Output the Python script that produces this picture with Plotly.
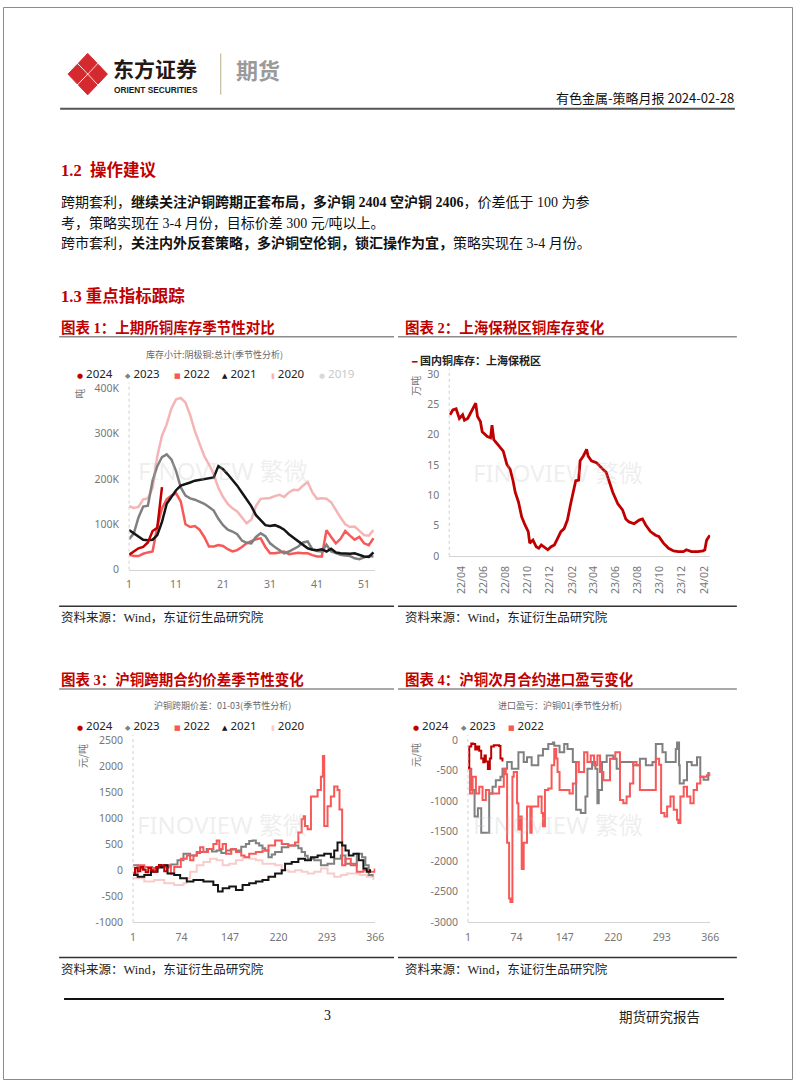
import plotly.graph_objects as go

W, H = 802, 1087


def px(x):
    return x / W


def py(y):
    return 1 - y / H


# ---------------- Chart 1: SHFE cathode copper inventory (thousand t), by week ----------------
c1_weeks = list(range(1, 54))
c1_2024 = [33, 40, 47, 50, 60, 85, 92, 182]
c1_2023 = [67, 80, 115, 139, 141, 196, 228, 248, 254, 243, 217, 181, 163, 157, 154, 150, 145, 138,
           130, 112, 98, 88, 84, 78, 64, 59, 58, 72, 80, 74, 58, 50, 42, 36, 40, 45, 51, 60, 62, 45,
           41, 40, 55, 40, 36, 33, 31, 30, 25, 23, 27, 30, 29]
c1_2022 = [33, 30, 30, 35, 38, 40, 95, 135, 155, 163, 168, 150, 100, 94, 96, 88, 72, 51, 51, 54,
           52, 45, 40, 43, 50, 58, 63, 67, 69, 50, 36, 36, 38, 40, 34, 36, 37, 36, 36, 32,
           29, 29, 87, 72, 58, 68, 85, 75, 66, 72, 58, 54, 69]
c1_2021 = [87, 80, 72, 66, 65, 66, 76, 105, 145, 160, 175, 185, 188, 192, 196, 198, 199, 202, 203, 228,
           221, 210, 198, 185, 170, 155, 140, 120, 108, 98, 96, 98, 94, 88, 78, 70, 62, 54, 47, 44,
           43, 45, 40, 46, 38, 36, 35, 35, 36, 33, 29, 28, 38]
c1_2020 = [140, 136, 138, 155, 157, 180, 250, 295, 320, 355, 375, 378, 368, 340, 305, 275, 250, 232,
           210, 180, 160, 145, 135, 128, 115, 102, 110, 140, 156, 157, 158, 162, 165, 160, 170, 176,
           175, 185, 193, 170, 156, 157, 156, 148, 130, 115, 100, 94, 95, 85, 76, 75, 87]
c1_xticks = [1, 11, 21, 31, 41, 51]
c1_yticks = [0, 100, 200, 300, 400]
c1_ytext = ["0", "100K", "200K", "300K", "400K"]

# ---------------- Chart 2: Shanghai bonded-zone copper stocks (10k t) ----------------
c2_dates = ["2022-03-01", "2022-03-09", "2022-03-18", "2022-03-22", "2022-03-27", "2022-04-05",
            "2022-04-10", "2022-04-19", "2022-04-28", "2022-05-04", "2022-05-11", "2022-05-16",
            "2022-05-24", "2022-05-29", "2022-06-12", "2022-06-21", "2022-06-25", "2022-06-30",
            "2022-07-12", "2022-07-26", "2022-08-05", "2022-08-14", "2022-08-22", "2022-08-28",
            "2022-09-06", "2022-09-15", "2022-09-24", "2022-10-03", "2022-10-07", "2022-10-16",
            "2022-10-25", "2022-11-01", "2022-11-08", "2022-11-22", "2022-11-26", "2022-12-05",
            "2022-12-14", "2022-12-23", "2023-01-01", "2023-01-10", "2023-01-19", "2023-01-28",
            "2023-02-11", "2023-02-19", "2023-02-23", "2023-03-04", "2023-03-13", "2023-03-17",
            "2023-03-26", "2023-04-09", "2023-04-18", "2023-04-27", "2023-05-06", "2023-05-15",
            "2023-05-24", "2023-06-07", "2023-06-20", "2023-06-29", "2023-07-08", "2023-07-22",
            "2023-08-05", "2023-08-14", "2023-08-23", "2023-09-05", "2023-09-19", "2023-09-28",
            "2023-10-11", "2023-10-25", "2023-11-08", "2023-11-21", "2023-12-05", "2023-12-13",
            "2023-12-27", "2024-01-14", "2024-01-28", "2024-02-02", "2024-02-07", "2024-02-16"]
c2_stock = [23.3, 24.1, 24.3, 23.5, 22.7, 23.3, 22.4, 22.7, 23.8, 24.3, 25.2, 23.0, 22.2, 20.5,
            19.7, 19.5, 21.6, 19.2, 18.4, 17.3, 15.1, 14.3, 12.4, 10.5, 8.9, 6.4, 5.1, 4.0, 2.1,
            2.6, 1.5, 1.25, 1.8, 1.25, 1.0, 1.5, 1.8, 2.9, 4.0, 4.5, 5.9, 8.6, 12.4, 12.5, 15.7,
            16.5, 17.6, 16.5, 15.7, 15.4, 14.8, 14.3, 13.8, 12.1, 10.5, 8.6, 7.6, 6.1, 5.6, 5.3,
            5.9, 6.1, 5.1, 4.0, 3.4, 3.2, 2.1, 1.25, 0.8, 0.7, 0.7, 1.0, 0.7, 0.7, 0.8, 1.0, 2.6, 3.4]
c2_yticks = [0, 5, 10, 15, 20, 25, 30]

# ---------------- Chart 3: SHFE copper 01-03 spread (yuan/t), by day of year ----------------
c3_d2024 = [1, 4, 8, 12, 16, 20, 24, 28, 32, 36, 40, 44, 48, 52, 54]
c3_v2024 = [-60, 40, -20, 60, 10, -40, 40, 0, -30, 60, 100, 90, -20, 40, 30]
c3_d2023 = [1, 8, 18, 30, 45, 58, 68, 77, 87, 97, 102, 112, 120, 127, 134, 141, 148, 156, 164, 171,
            176, 181, 186, 191, 196, 200, 205, 210, 215, 225, 235, 245, 250, 255, 260, 264, 274, 284,
            294, 304, 314, 321, 329, 338, 346, 351, 356, 362]
c3_v2023 = [95, 30, 60, 40, 70, 110, 190, 315, 285, 330, 350, 410, 360, 380, 330, 380, 400, 380, 450,
            505, 560, 570, 520, 475, 420, 380, 250, 300, 350, 440, 475, 475, 420, 350, 280, 220, 190,
            95, 125, 220, 285, 125, 95, 315, 250, 95, -95, -120]
c3_d2022 = [1, 8, 18, 28, 38, 48, 58, 63, 73, 82, 87, 92, 97, 102, 107, 114, 122, 127, 131, 136, 141,
            149, 156, 164, 169, 176, 186, 196, 205, 215, 225, 235, 245, 250, 255, 258, 260, 264, 269,
            274, 279, 284, 287, 289, 294, 299, 304, 309, 312, 316, 321, 329, 338, 348, 358, 365]
c3_v2022 = [-63, 95, 63, 30, 63, 95, -63, 63, 220, 285, 190, 285, 350, 440, 350, 410, 505, 570, 410,
            505, 315, 410, 350, 285, 250, 315, 350, 380, 475, 570, 505, 475, 535, 725, 980, 1040, 850,
            790, 1420, 1420, 1545, 1800, 2200, 850, 1230, 1420, 1610, 1545, 1170, 95, 220, 125, -30, 0,
            -30, 30]
c3_d2021 = [1, 8, 18, 28, 38, 48, 53, 63, 72, 82, 92, 107, 122, 129, 136, 146, 156, 166, 176, 186,
            196, 205, 215, 225, 230, 240, 250, 260, 269, 279, 289, 299, 304, 309, 316, 321, 326, 333,
            341, 348, 353, 358]
c3_v2021 = [-95, -126, -95, -30, 63, 95, -63, -95, -158, -220, -190, -220, -285, -410, -347, -315,
            -380, -285, -250, -220, -190, -126, -63, 0, 125, 158, 220, 190, 250, 285, 315, 250, 380,
            535, 475, 380, 285, 315, 190, 30, -30, 20]
c3_d2020 = [1, 18, 33, 48, 63, 77, 82, 87, 97, 107, 117, 127, 136, 146, 156, 166, 176, 186, 196, 205,
            215, 225, 235, 245, 255, 264, 274, 284, 294, 304, 314, 323, 333, 343, 353, 363]
c3_v2020 = [-158, -220, -190, -250, -285, -250, -158, -30, 95, 158, 220, 190, 95, 125, 190, 250, 220,
            190, 125, 125, 95, 0, -30, 0, -30, -63, -30, 30, -63, -126, -95, -63, -63, -95, -126, -190]
c3_xticks = [1, 74, 147, 220, 293, 366]
c3_yticks = [-1000, -500, 0, 500, 1000, 1500, 2000, 2500]

# ---------------- Chart 4: SHFE copper import profit (yuan/t), by day of year ----------------
c4_d2024 = [1, 3, 6, 9, 12, 15, 18, 21, 24, 26, 28, 31, 34, 36, 40, 44, 48, 50, 53]
c4_v2024 = [-450, -100, -50, -60, -150, -100, -170, -300, -360, -250, -350, -470, -300, -100, -80,
            -80, -90, -300, -350]
c4_d2023 = [1, 6, 11, 16, 21, 31, 33, 38, 43, 50, 53, 60, 67, 77, 85, 90, 97, 107, 114, 122, 129, 131,
            139, 146, 151, 159, 164, 171, 176, 178, 181, 188, 193, 196, 198, 203, 210, 220, 225, 230,
            240, 250, 260, 269, 279, 284, 289, 294, 299, 306, 314, 316, 319, 320, 326, 331, 338, 346,
            351, 356, 363]
c4_v2023 = [-467, -820, -1255, -1120, -1525, -1525, -875, -765, -657, -600, -467, -358, -467, -195,
            -358, -277, -412, -250, -141, -60, -33, -87, -195, -60, -141, -358, -1146, -1200, -1200,
            -928, -467, -358, -467, -1037, -820, -358, -250, -304, -467, -358, -358, -412, -304, -412,
            -358, -60, -60, -195, -358, -358, -141, -33, -412, -711, -657, -358, -412, -277, -600,
            -650, -520]
c4_d2022 = [1, 4, 8, 13, 18, 23, 28, 33, 43, 48, 53, 55, 58, 60, 63, 65, 68, 70, 75, 77, 80, 82, 85,
            90, 95, 97, 102, 107, 112, 114, 117, 122, 127, 131, 134, 136, 139, 146, 154, 159, 164,
            168, 176, 181, 186, 191, 196, 200, 205, 215, 223, 230, 235, 240, 245, 250, 255, 260, 269,
            279, 284, 289, 292, 297, 301, 306, 311, 316, 318, 321, 326, 331, 336, 341, 346, 351, 361,
            366]
c4_v2022 = [-467, -875, -600, -875, -765, -983, -820, -875, -875, -765, -765, -467, -560, -1689,
            -2612, -2667, -600, -521, -1037, -1472, -1255, -2124, -1689, -1091, -1525, -1091, -1091,
            -928, -1200, -1417, -820, -792, -412, -141, -300, -521, -820, -820, -875, -711, -358,
            -521, -195, -358, -250, -412, -250, -521, -657, -304, -195, -983, -1037, -928, -711,
            -358, -412, -820, -820, -820, -304, -400, -1200, -1255, -1091, -928, -1146, -1309, -1363,
            -928, -765, -928, -1037, -820, -711, -600, -575, -521]
c4_xticks = [1, 74, 147, 220, 293, 366]
c4_yticks = [-3000, -2500, -2000, -1500, -1000, -500, 0]

# ---------------- styling ----------------
DARKRED = "#c00000"
GRAY = "#808080"
SALMON = "#f85858"
BLACK = "#151515"
PINK1 = "#f5b5b5"
PINK3 = "#f9cccc"
HEADRED = "#c00000"

SANS = "Noto Sans, Noto Sans CJK SC, sans-serif"
CJK = "Noto Sans CJK SC, sans-serif"
BODY = "Liberation Serif, Noto Sans CJK SC, serif"
TICKFONT = dict(family=SANS, size=10.5, color="#767676")

fig = go.Figure()


def line(x, y, color, width, xa, ya, name, shape="linear"):
    fig.add_trace(go.Scatter(x=x, y=y, mode="lines", name=name, showlegend=False,
                             line=dict(color=color, width=width, shape=shape),
                             xaxis=xa, yaxis=ya, hoverinfo="skip"))


# chart 1
line(c1_weeks, c1_2020, PINK1, 2.5, "x", "y", "2020")
line(c1_weeks, c1_2022, SALMON, 2.5, "x", "y", "2022")
line(c1_weeks, c1_2023, GRAY, 2.5, "x", "y", "2023")
line(c1_weeks, c1_2021, BLACK, 2.5, "x", "y", "2021")
line(c1_weeks[:len(c1_2024)], c1_2024, DARKRED, 2.5, "x", "y", "2024")
# chart 2
line(c2_dates, c2_stock, DARKRED, 2.8, "x2", "y2", "国内铜库存：上海保税区")
# chart 3
line(c3_d2020, c3_v2020, PINK3, 2, "x3", "y3", "2020", "hv")
line(c3_d2023, c3_v2023, GRAY, 2, "x3", "y3", "2023", "hv")
line(c3_d2022, c3_v2022, SALMON, 2, "x3", "y3", "2022", "hv")
line(c3_d2021, c3_v2021, BLACK, 2, "x3", "y3", "2021", "hv")
line(c3_d2024, c3_v2024, DARKRED, 2, "x3", "y3", "2024", "hv")
# chart 4
line(c4_d2023, c4_v2023, GRAY, 2, "x4", "y4", "2023", "hv")
line(c4_d2022, c4_v2022, SALMON, 2, "x4", "y4", "2022", "hv")
line(c4_d2024, c4_v2024, DARKRED, 2, "x4", "y4", "2024", "hv")


def xaxis(x0, x1, anchor, **kw):
    d = dict(domain=[px(x0), px(x1)], anchor=anchor, showgrid=False, zeroline=False,
             showline=True, linecolor="#d4d4d4", linewidth=1, ticks="", tickfont=TICKFONT,
             ticklabelstandoff=5, fixedrange=True)
    d.update(kw)
    return d


def yaxis(y_bottom, y_top, anchor, **kw):
    d = dict(domain=[py(y_bottom), py(y_top)], anchor=anchor, showgrid=False, zeroline=False,
             showline=False, ticks="", tickfont=TICKFONT, ticklabelstandoff=9, fixedrange=True)
    d.update(kw)
    return d


layout = dict(
    width=W, height=H, margin=dict(l=0, r=0, t=0, b=0),
    paper_bgcolor="white", plot_bgcolor="white", showlegend=False,
    xaxis=xaxis(128, 378, "y", range=[1, 53.4], tickvals=c1_xticks),
    yaxis=yaxis(570, 386, "x", range=[0, 400], tickvals=c1_yticks, ticktext=c1_ytext),
    xaxis2=xaxis(453, 718, "y2", type="date", range=["2022-02-27", "2024-02-17"],
                 tick0="2022-04-01", dtick="M2", tickformat="%y/%m", tickangle=-90),
    yaxis2=yaxis(556, 372, "x2", range=[0, 30], tickvals=c2_yticks),
    xaxis3=xaxis(132, 378, "y3", range=[1, 366], tickvals=c3_xticks),
    yaxis3=yaxis(927, 743, "x3", range=[-1000, 2500], tickvals=c3_yticks,
                 ticktext=[str(v) for v in c3_yticks]),
    xaxis4=xaxis(472, 718, "y4", range=[1, 366], tickvals=c4_xticks),
    yaxis4=yaxis(927, 743, "x4", range=[-3000, 0], tickvals=c4_yticks,
                 ticktext=[str(v) for v in c4_yticks]),
)

ann = []


def text(x, y, s, size, color="#222", family=BODY, xanchor="left", yanchor="middle", angle=0):
    ann.append(dict(x=px(x), y=py(y), xref="paper", yref="paper", text=s, showarrow=False,
                    xanchor=xanchor, yanchor=yanchor, textangle=angle,
                    font=dict(size=size, color=color, family=family)))


# header
text(110, 62, "<b>东方证券</b>", 21, "#231815", CJK)
text(111, 84, "<b>ORIENT SECURITIES</b>", 8.3, "#231815", "Liberation Sans Narrow, Liberation Sans, sans-serif")
text(235, 63, "<b>期货</b>", 22, "#9a9a9a", CJK)
text(744, 92, "有色金属-策略月报 2024-02-28", 13, "#111", CJK, xanchor="right")

# section text
text(57, 166, "<b>1.2  操作建议</b>", 16.5, HEADRED)
text(57, 198, "跨期套利，<b>继续关注沪铜跨期正套布局，多沪铜 2404 空沪铜 2406</b>，价差低于 100 为参", 14, "#111")
text(57, 219, "考，策略实现在 3-4 月份，目标价差 300 元/吨以上。", 14, "#111")
text(57, 239, "跨市套利，<b>关注内外反套策略，多沪铜空伦铜，锁汇操作为宜，</b>策略实现在 3-4 月份。", 14, "#111")
text(57, 293, "<b>1.3 重点指标跟踪</b>", 16.5, HEADRED)

# chart titles
text(57, 325, "<b>图表 1：上期所铜库存季节性对比</b>", 14.5, HEADRED)
text(406, 325, "<b>图表 2：上海保税区铜库存变化</b>", 14.5, HEADRED)
text(57, 681, "<b>图表 3：沪铜跨期合约价差季节性变化</b>", 14.5, HEADRED)
text(406, 681, "<b>图表 4：沪铜次月合约进口盈亏变化</b>", 14.5, HEADRED)

# inner chart titles
text(215, 352, "库存小计:阴极铜:总计(季节性分析)", 9, "#666", CJK, xanchor="center")
text(223, 708, "沪铜跨期价差：01-03(季节性分析)", 9, "#666", CJK, xanchor="center")
text(565, 708, "进口盈亏：沪铜01(季节性分析)", 9, "#666", CJK, xanchor="center")

# unit labels
text(78, 392, "吨", 10, "#777", CJK, xanchor="center", angle=-90)
text(418, 384, "万吨", 10, "#777", CJK, xanchor="center", angle=-90)
text(80, 759, "元/吨", 10, "#777", CJK, xanchor="center", angle=-90)
text(418, 758, "元/吨", 10, "#777", CJK, xanchor="center", angle=-90)

# watermarks
for cx, cy in [(223, 470), (563, 472), (222, 828), (563, 828)]:
    text(cx, cy, "FINOVIEW 繁微", 24, "rgba(190,190,190,0.25)", SANS, xanchor="center")

# legends (glyph + label)
legend_items_1 = [("●", DARKRED, "2024", "#222"), ("◆", GRAY, "2023", "#222"),
                  ("■", SALMON, "2022", "#222"), ("▲", BLACK, "2021", "#222"),
                  ("▮", PINK1, "2020", "#222"), ("●", "#d9d9d9", "2019", "#c8c8c8")]
legend_items_3 = legend_items_1[:4] + [("▮", PINK3, "2020", "#222")]
legend_items_4 = legend_items_1[:3]


def legend_row(items, x0, y, pitch):
    for i, (g, gc, lab, tc) in enumerate(items):
        s = '<span style="color:%s;font-size:7px;font-family:DejaVu Sans">%s</span> %s' % (gc, g, lab)
        text(x0 + i * pitch, y, s, 11.5, tc, SANS)


legend_row(legend_items_1, 73, 371, 49.2)
legend_row(legend_items_3, 73, 728, 49.2)
legend_row(legend_items_4, 414, 728, 48.5)
text(412, 358, '<span style="color:%s;font-size:9px;font-family:DejaVu Sans"><b>━</b></span> '
     '<b>国内铜库存：上海保税区</b>' % DARKRED, 11, "#222", CJK)

# sources
for sx, sy in [(57, 618), (406, 618), (57, 975), (406, 975)]:
    text(sx, sy, "资料来源：Wind，东证衍生品研究院", 12.5, "#222")

# footer
text(329, 1022, "3", 14, "#111", BODY, xanchor="center")
text(623, 1022, "期货研究报告", 13.5, "#222", CJK)

layout["annotations"] = ann

shapes = []


def seg(x0, y0, x1, y1, color, width, dash="solid"):
    shapes.append(dict(type="line", xref="paper", yref="paper", x0=px(x0), y0=py(y0),
                       x1=px(x1), y1=py(y1), line=dict(color=color, width=width, dash=dash)))


# page frame
shapes.append(dict(type="rect", xref="paper", yref="paper", x0=px(0.5), y0=py(1086.5),
                   x1=px(801.5), y1=py(0.5), line=dict(color="#8a8a8a", width=1)))
# header / footer rules
seg(58, 103, 743, 103, "#555", 2)
seg(221, 47, 221, 89, "#c9bca0", 1.2)
seg(62, 1005, 732, 1005, "#111", 2)
# chart title underlines and source rules
seg(57, 334, 397, 334, "#8c8c8c", 1.5)
seg(401, 334, 745, 334, "#8c8c8c", 1.5)
seg(57, 607, 397, 607, "#333", 1.5)
seg(401, 607, 745, 607, "#333", 1.5)
seg(57, 691, 397, 691, "#8c8c8c", 1.5)
seg(401, 691, 745, 691, "#8c8c8c", 1.5)
seg(57, 963, 397, 963, "#333", 1.5)
seg(401, 963, 745, 963, "#333", 1.5)
# dotted y-axis lines
for xa, ya in [("x", "y"), ("x2", "y2"), ("x3", "y3"), ("x4", "y4")]:
    shapes.append(dict(type="line", xref=xa + " domain", yref=ya + " domain", x0=0, x1=0,
                       y0=0, y1=1.03, line=dict(color="#cfcfcf", width=1, dash="dot")))


# logo: four red lobes forming a diamond
def diamond(cx, cy, hw, hh):
    pts = [(cx, cy - hh), (cx + hw, cy), (cx, cy + hh), (cx - hw, cy)]
    return "M " + " L ".join("%f,%f" % (px(a), py(b)) for a, b in pts) + " Z"


for cx, cy in [(86, 57), (86, 79), (75.5, 68), (96.5, 68)]:
    shapes.append(dict(type="path", xref="paper", yref="paper", path=diamond(cx, cy, 9.5, 10),
                       fillcolor="#d42a2f", line=dict(color="#d42a2f", width=1)))

layout["shapes"] = shapes
fig.update_layout(**layout)

fig.write_html("out.html", include_plotlyjs=True, full_html=True,
               config={"displayModeBar": False, "staticPlot": True},
               post_script="document.body.style.margin='0';")
